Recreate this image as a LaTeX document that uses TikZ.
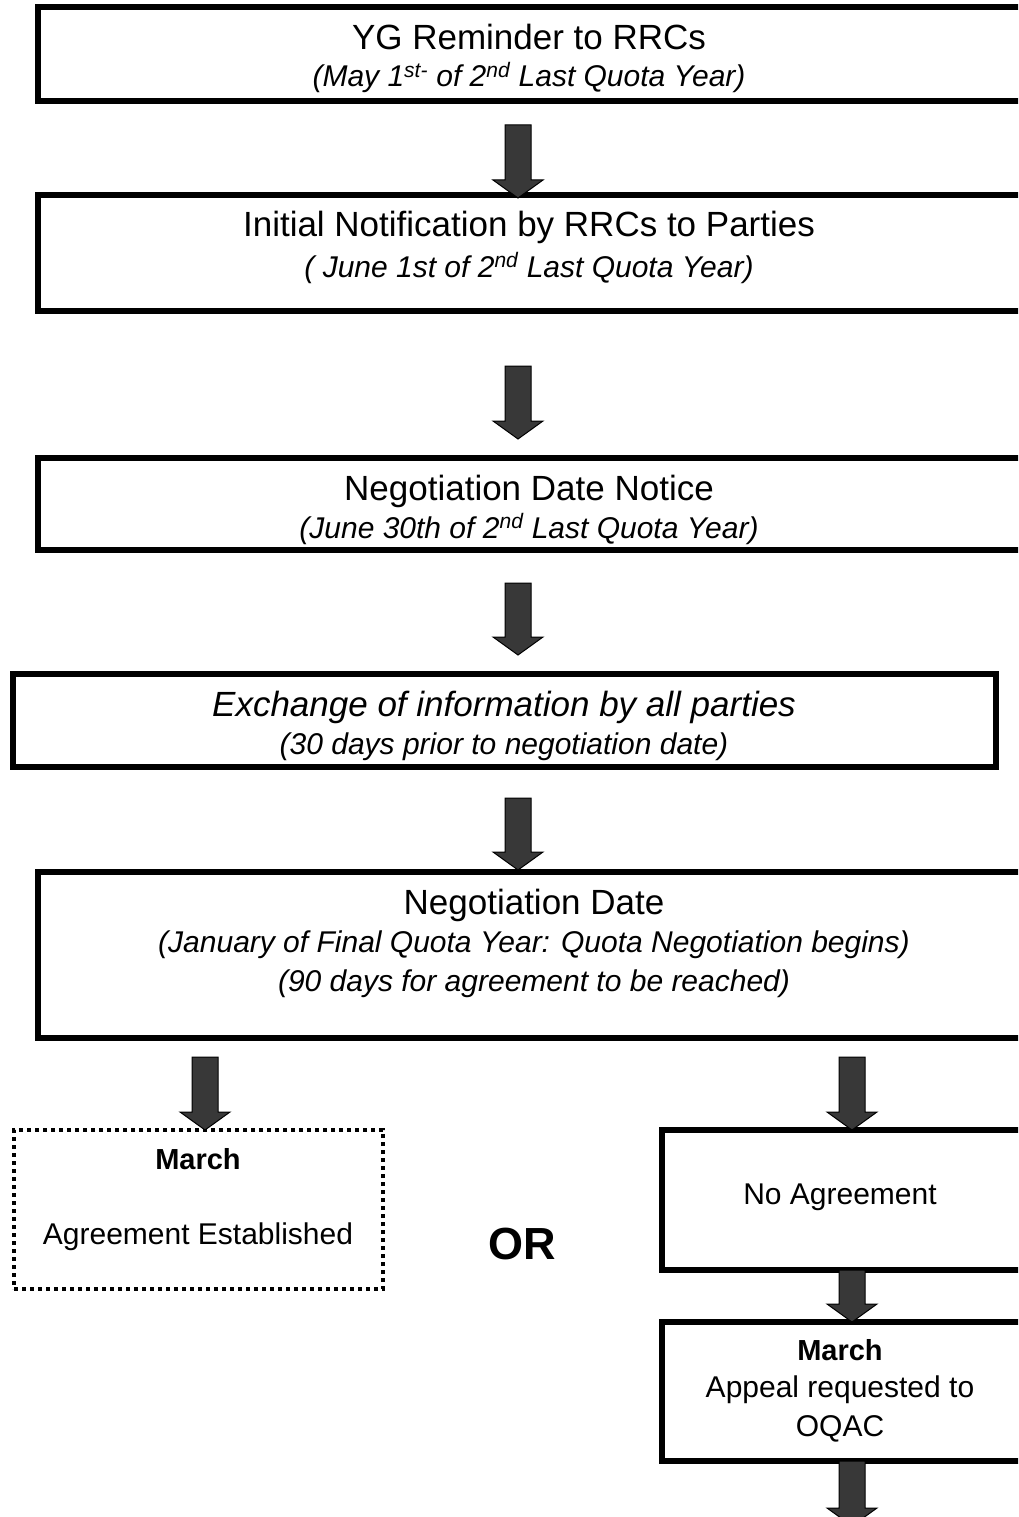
\documentclass[tikz,border=0pt]{standalone}
\usepackage{fontspec}
\setmainfont{Liberation Sans}
\usetikzlibrary{calc}

\definecolor{arrowgray}{HTML}{383838}

\tikzset{
  flowbox/.style={draw,line width=6pt,inner sep=0pt,outer sep=0pt,anchor=north west},
  dotbox/.style={draw,line width=4pt,dash pattern=on 4pt off 4pt,inner sep=0pt,outer sep=0pt,anchor=north west},
  heading/.style={anchor=base,inner sep=0pt,font=\fontsize{35}{40}\selectfont},
  subhead/.style={anchor=base,inner sep=0pt,font=\fontsize{30}{34}\selectfont\itshape},
  bodytext/.style={anchor=base,inner sep=0pt,font=\fontsize{30}{34}\selectfont},
  month/.style={anchor=base,inner sep=0pt,font=\fontsize{29}{33}\selectfont\bfseries},
  blockarr/.style={fill=arrowgray,draw=black,line width=1pt,line join=miter}
}

% block arrow from #1 (top of shaft) down to #2 (tip)
\newcommand{\blockarrow}[2]{%
  \draw[blockarr] let \p1=(#1), \p2=(#2) in
    (\x1-13pt,\y1) -- (\x1+13pt,\y1) -- (\x1+13pt,\y2+18pt)
    -- (\x1+25pt,\y2+18pt) -- (\x1,\y2) -- (\x1-25pt,\y2+18pt)
    -- (\x1-13pt,\y2+18pt) -- cycle;}

\begin{document}
\begin{tikzpicture}[x=1pt,y=-1pt]
    \useasboundingbox (0,0) rectangle (1018,1517);
    \clip (0,0) rectangle (1018,1517);

    \coordinate (mainx) at (518,0);
    \coordinate (leftx) at (205,0);
    \coordinate (rightx) at (852,0);

    % Boxes
    \node[flowbox,minimum width=986pt,minimum height=94pt] (remind) at (38,7) {};
    \node[flowbox,minimum width=986pt,minimum height=116pt] (notify) at (38,195) {};
    \node[flowbox,minimum width=986pt,minimum height=92pt] (notice) at (38,458) {};
    \node[flowbox,minimum width=983pt,minimum height=93pt] (exchange) at (13,674) {};
    \node[flowbox,minimum width=994pt,minimum height=166pt] (negdate) at (38,872) {};
    \node[dotbox,minimum width=369pt,minimum height=159pt] (agree) at (14,1130) {};
    \node[flowbox,minimum width=360pt,minimum height=140pt] (noagree) at (662,1130) {};
    \node[flowbox,minimum width=360pt,minimum height=139pt] (appeal) at (662,1322) {};

    % Texts
    \node[heading] (remindT) at (529,50) {YG Reminder to RRCs};
    \node[subhead] (remindS) at (529,87) {(May 1\textsuperscript{st-} of 2\textsuperscript{nd} Last Quota Year)};
    \node[heading] (notifyT) at (529,236) {Initial Notification by RRCs to Parties};
    \node[subhead] (notifyS) at (529,277) {( June 1st of 2\textsuperscript{nd} Last Quota Year)};
    \node[heading] (noticeT) at (529,500) {Negotiation Date Notice};
    \node[subhead] (noticeS) at (529,538) {(June 30th of 2\textsuperscript{nd} Last Quota Year)};
    \node[heading,font=\fontsize{35}{40}\selectfont\itshape] (exchangeT) at (504,716) {Exchange of information by all parties};
    \node[subhead] (exchangeS) at (504,754) {(30 days prior to negotiation date)};
    \node[heading] (negdateT) at (534,914) {Negotiation Date};
    \node[subhead] (negdateS) at (534,952) {(January of Final Quota Year: Quota Negotiation begins)};
    \node[subhead] (negdateR) at (534,991) {(90 days for agreement to be reached)};
    \node[month] (agreeM) at (198,1169) {March};
    \node[bodytext] (agreeT) at (198,1244) {Agreement Established};
    \node[anchor=base,inner sep=0pt,font=\fontsize{45}{50}\selectfont\bfseries] (orT) at (522,1259) {OR};
    \node[bodytext] (noagreeT) at (840,1204) {No Agreement};
    \node[month] (appealM) at (840,1360) {March};
    \node[bodytext] (appealT) at (840,1397) {Appeal requested to};
    \node[bodytext] (appealU) at (840,1436) {OQAC};

    % Arrows
    \blockarrow{$(remind.south -| mainx)+(0,24)$}{$(notify.north -| mainx)+(0,3)$}
    \blockarrow{$(notify.south -| mainx)+(0,55)$}{$(notice.north -| mainx)+(0,-19)$}
    \blockarrow{$(notice.south -| mainx)+(0,33)$}{$(exchange.north -| mainx)+(0,-19)$}
    \blockarrow{$(exchange.south -| mainx)+(0,31)$}{$(negdate.north -| mainx)+(0,-2)$}
    \blockarrow{$(negdate.south -| leftx)+(0,19)$}{agree.north -| leftx}
    \blockarrow{$(negdate.south -| rightx)+(0,19)$}{noagree.north -| rightx}
    \blockarrow{noagree.south -| rightx}{appeal.north -| rightx}
    \blockarrow{appeal.south -| rightx}{$(appeal.south -| rightx)+(0,65)$}
\end{tikzpicture}
\end{document}
